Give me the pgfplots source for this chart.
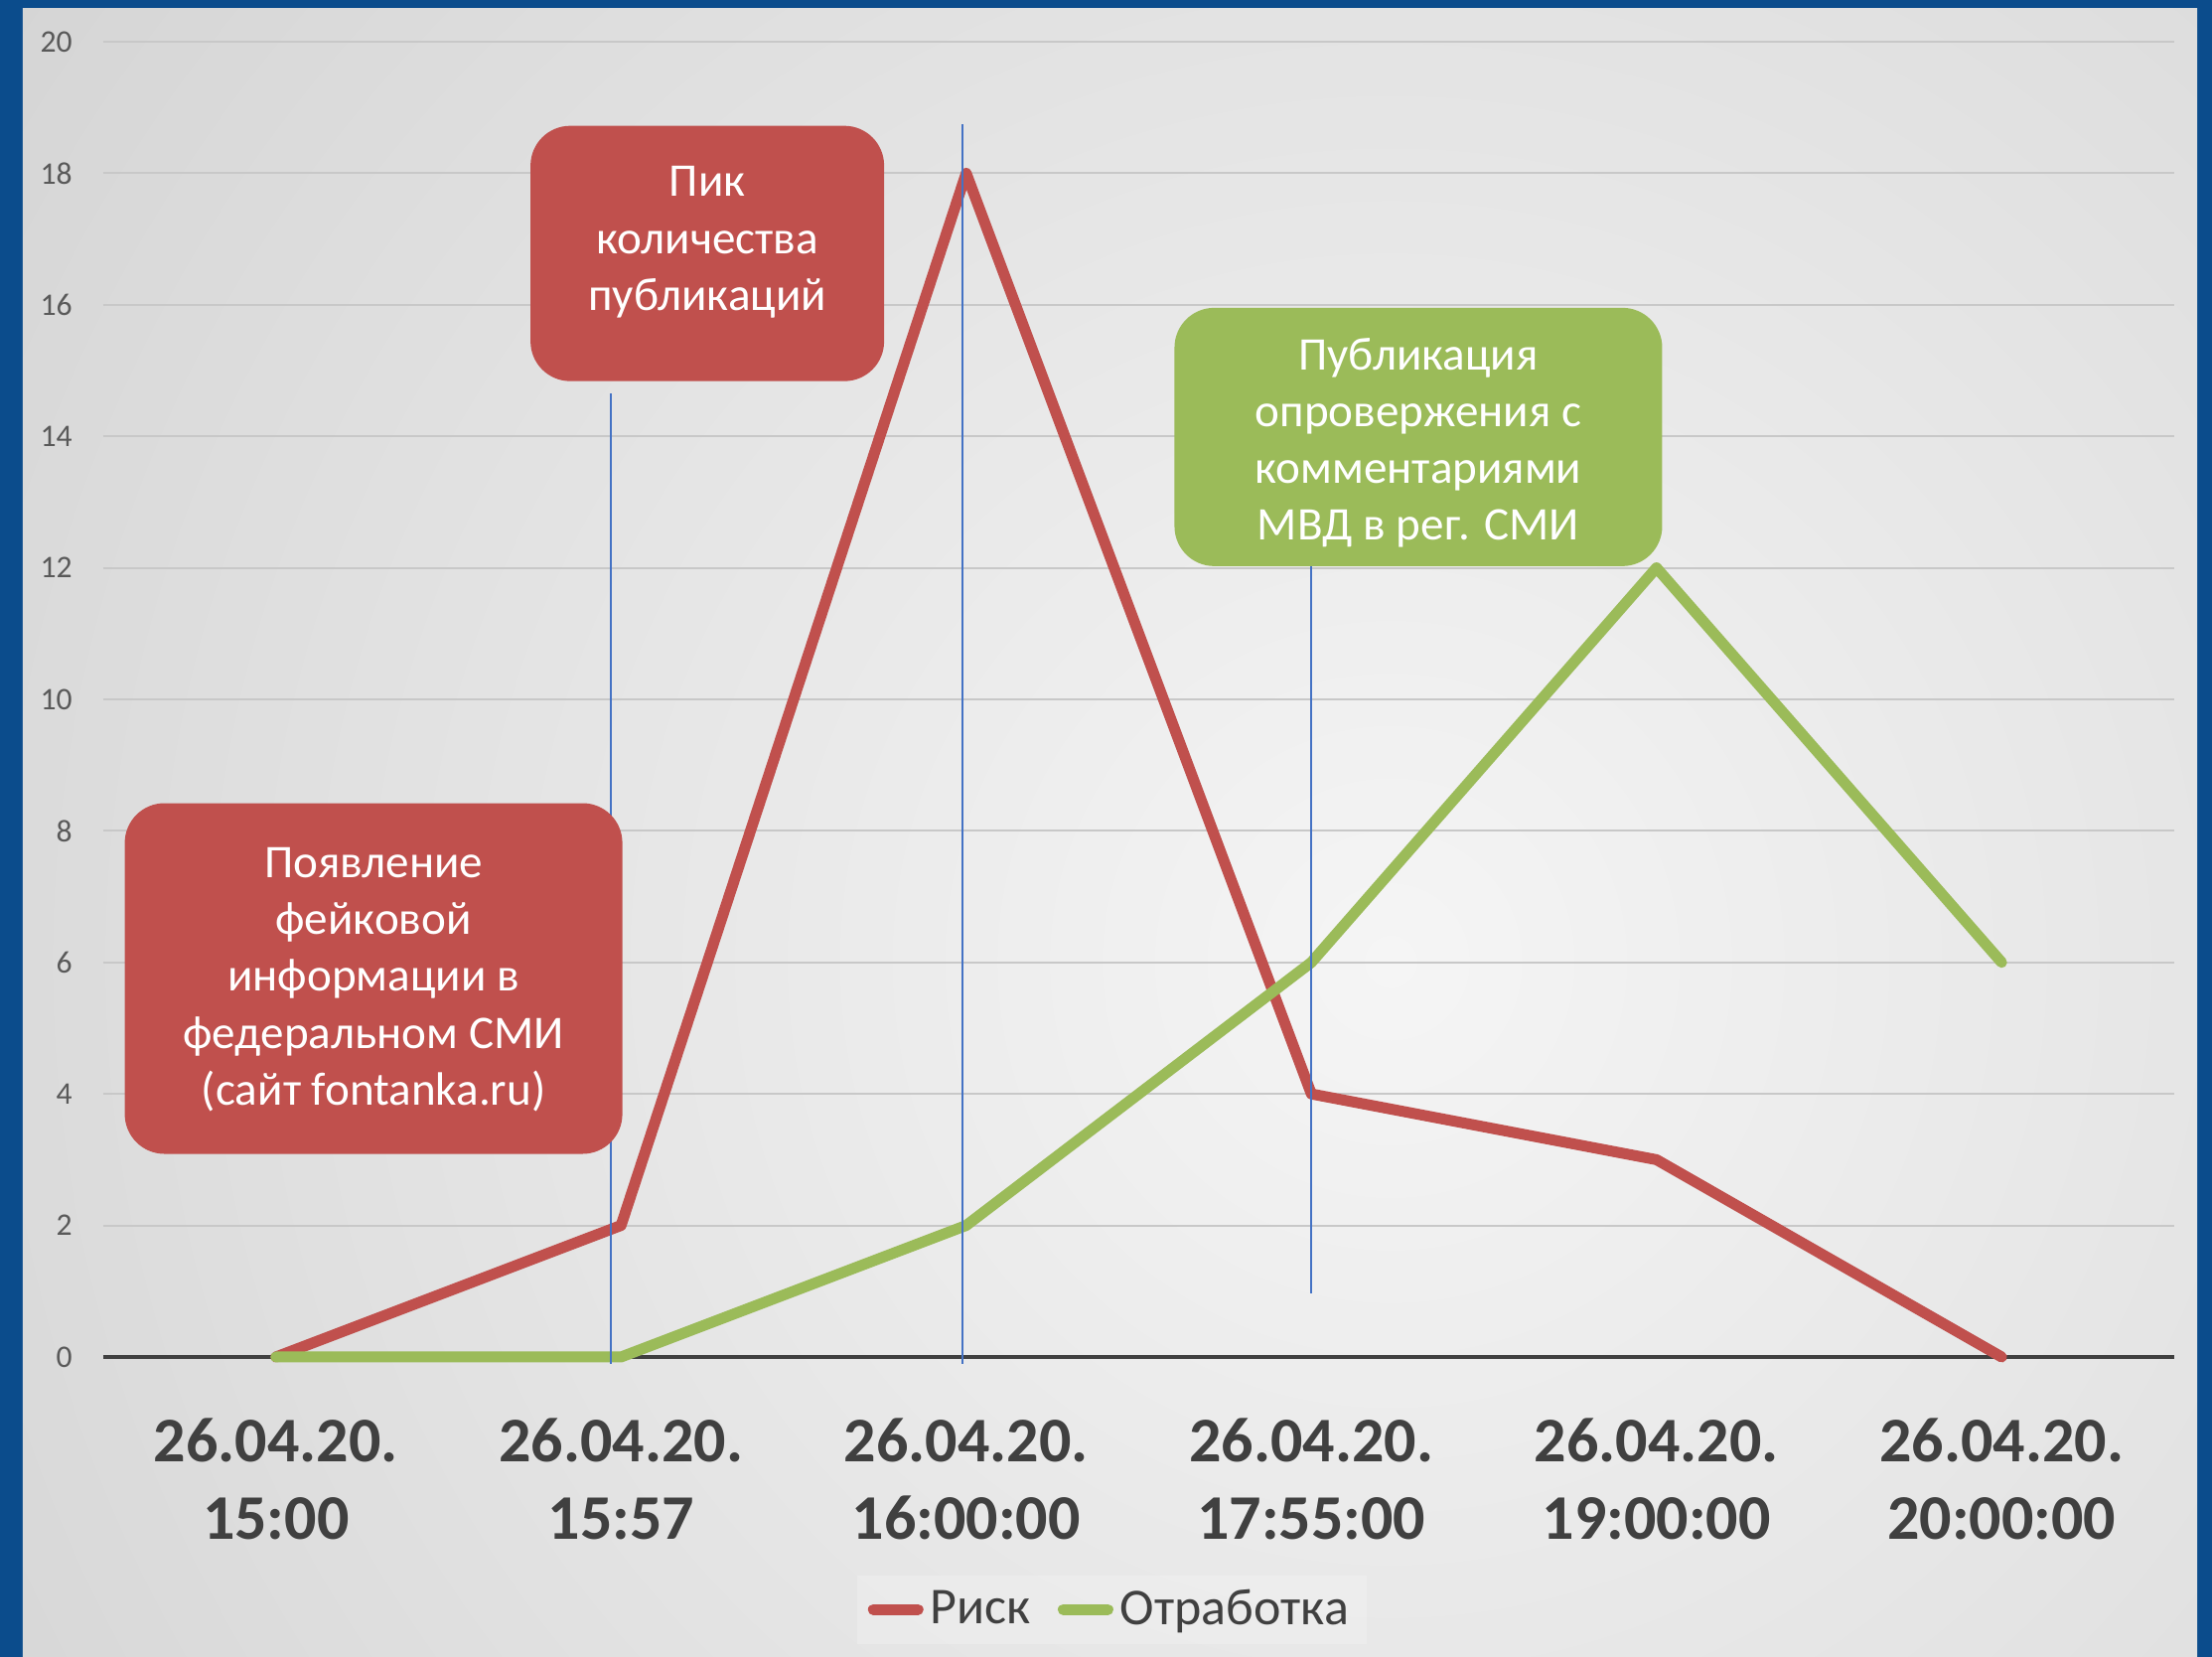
\documentclass[border=0pt]{standalone}
\usepackage{fontspec}
\setmainfont{Carlito}
\usepackage{pgfplots}
\pgfplotsset{compat=1.18}
\definecolor{risk}{HTML}{C0504D}
\definecolor{otr}{HTML}{9BBB59}
\definecolor{frame}{HTML}{0B4C8C}
\definecolor{callout}{HTML}{4472C4}
\definecolor{txt}{HTML}{404040}
\definecolor{ytxt}{HTML}{595959}
\definecolor{gridc}{HTML}{C8C8C8}
\tikzset{box/.style={rounded corners=0.4cm, inner sep=0pt},
  boxtext/.style={text=white, align=center, inner sep=0pt,
  font=\fontsize{13.4}{16.3}\selectfont}}

\begin{document}
\begin{tikzpicture}
\useasboundingbox (0,0) rectangle (22.27,16.68);
\fill[frame] (0,0) rectangle (22.27,16.68);
\begin{scope}
  \clip (0.23,0) rectangle (22.12,16.59);
  \shade[inner color={rgb,255:red,245;green,245;blue,245}, outer color={rgb,255:red,192;green,192;blue,192}] (14,7) circle (28cm);
\end{scope}
\begin{axis}[
  at={(1.04cm,3.02cm)}, anchor=south west,
  scale only axis, width=20.85cm, height=13.24cm,
  xmin=-0.5, xmax=5.5, ymin=0, ymax=20,
  xtick={0,...,5},
  xticklabels={26.04.20.\\15:00, 26.04.20.\\15:57, 26.04.20.\\16:00:00,
    26.04.20.\\17:55:00, 26.04.20.\\19:00:00, 26.04.20.\\20:00:00},
  ytick={0,2,...,20},
  axis line style={draw=none},
  major tick length=0pt,
  ymajorgrids, grid style={gridc, line width=0.6pt},
  /pgf/number format/assume math mode=true,
  yticklabel style={font=\fontsize{9}{10}\selectfont, text=ytxt, xshift=-0.19cm},
  xticklabel style={font=\fontsize{18.2}{22.2}\selectfont\bfseries, text=txt, align=center, yshift=-0.49cm},
  clip=false,
  legend style={at={(0.487,-0.192)}, anchor=center, draw=none, fill=white, fill opacity=0.2,
    text opacity=1, font=\fontsize{14.8}{17}\selectfont, text=txt, legend columns=-1,
    /tikz/every even column/.append style={column sep=0.2cm}},
  legend image code/.code={\draw[#1, line cap=round] (0.06cm,0cm) -- (0.51cm,0cm);},
]
\addplot[txt, line width=0.04cm, forget plot] coordinates {(-0.5,0) (5.5,0)};

\addplot[risk, line width=0.11cm, line join=round, line cap=round] coordinates {
  (0,0) (1,2) (2,18) (3,4) (4,3) (5,0)};
\addlegendentry{Риск}
\addplot[otr, line width=0.11cm, line join=round, line cap=round] coordinates {
  (0,0) (1,0) (2,2) (3,6) (4,12) (5,6)};
\addlegendentry{Отработка}

% callout lines
\addplot[callout, line width=0.45pt, forget plot] coordinates {(0.97,-0.1) (0.97,14.66)};
\addplot[callout, line width=0.45pt, forget plot] coordinates {(1.99,-0.1) (1.99,18.75)};
\addplot[callout, line width=0.45pt, forget plot] coordinates {(3,0.97) (3,12.06)};

\node[box, fill=risk, minimum width=5.01cm, minimum height=3.53cm] at (axis cs:0.283,5.755) {};
\node[boxtext] at (axis cs:0.283,5.74)
  {Появление\\фейковой\\информации в\\федеральном СМИ\\(сайт fontanka.ru)};
\node[box, fill=risk, minimum width=3.56cm, minimum height=2.57cm] at (axis cs:1.25,16.78) {};
\node[boxtext] at (axis cs:1.25,16.95)
  {Пик\\количества\\публикаций};
\node[box, fill=otr, minimum width=4.91cm, minimum height=2.6cm] at (axis cs:3.31,13.99) {};
\node[boxtext] at (axis cs:3.31,13.90)
  {Публикация\\опровержения с\\комментариями\\МВД в рег. СМИ};
\end{axis}
\end{tikzpicture}
\end{document}
